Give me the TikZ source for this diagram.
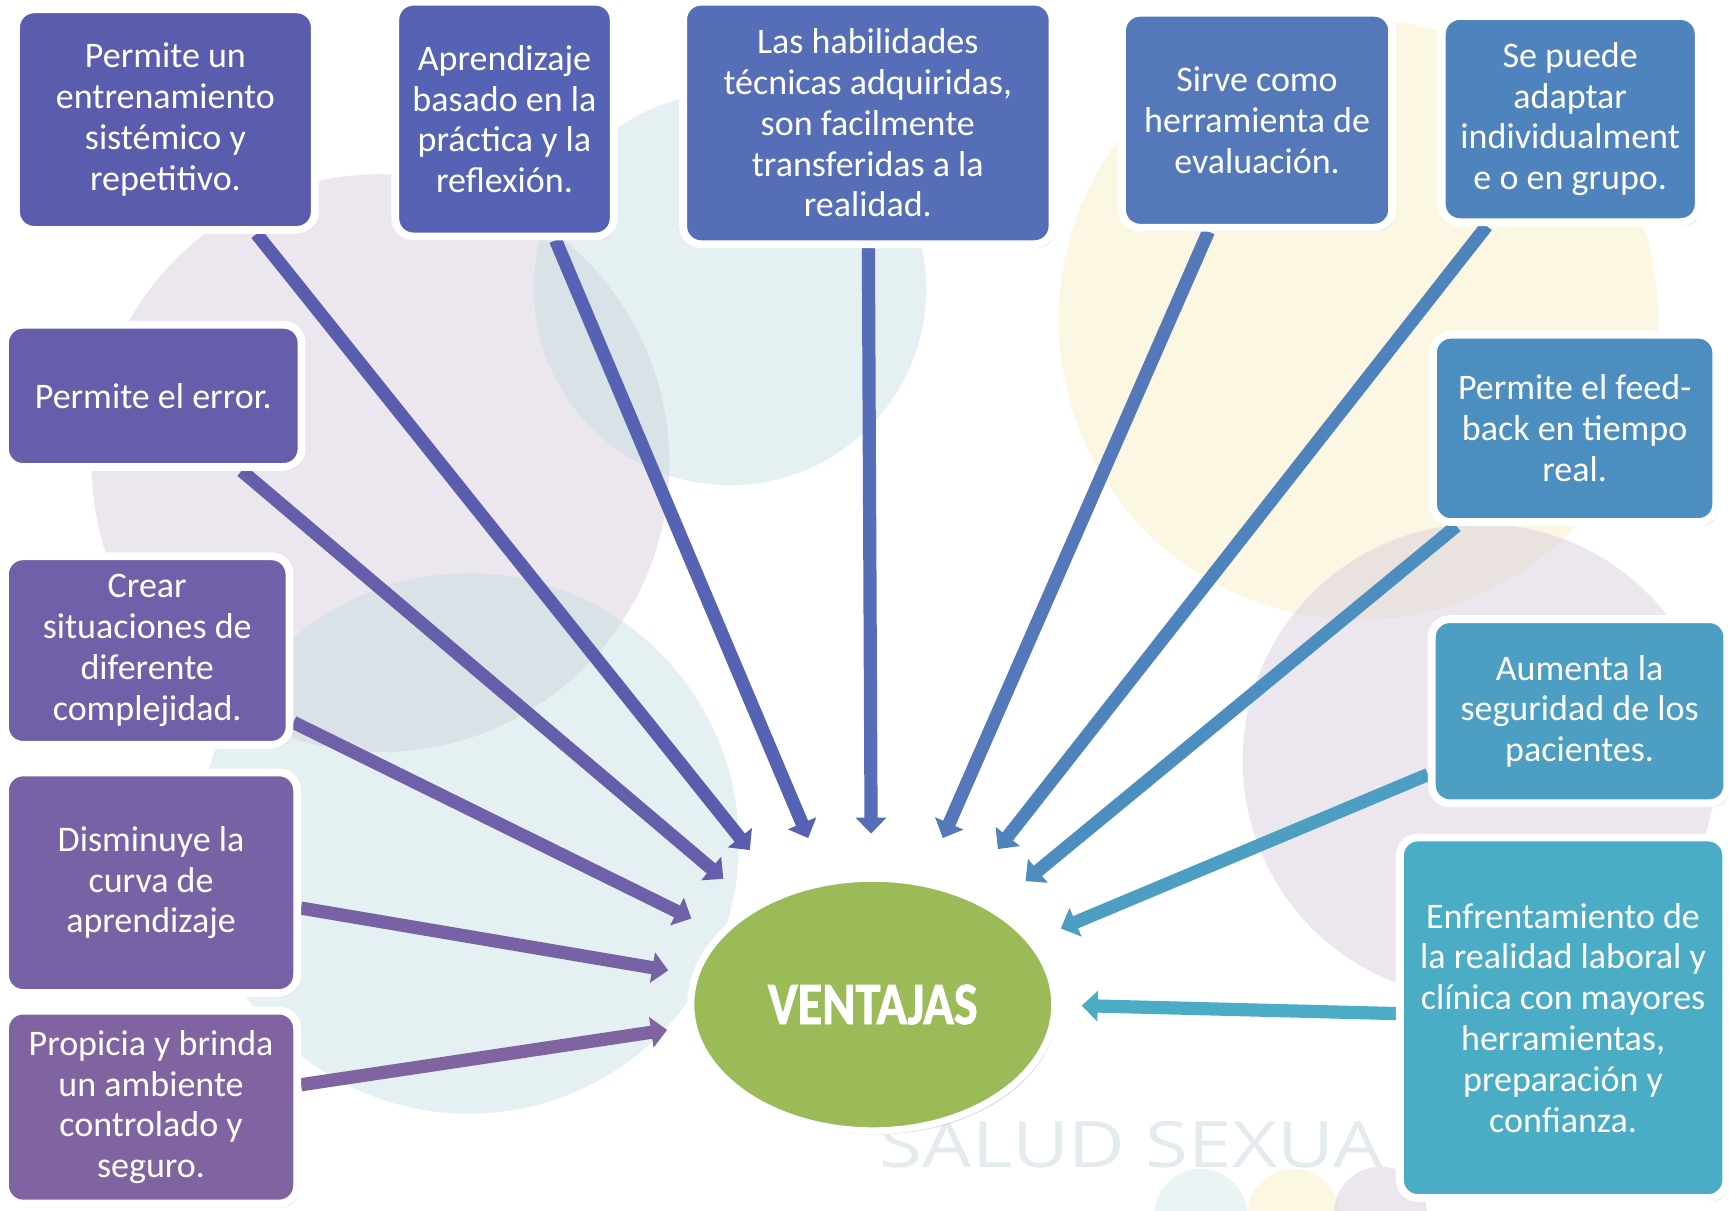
\documentclass[tikz,border=0pt]{standalone}
\usepackage{fontspec}
\usepackage{graphicx}
\setmainfont{Carlito}
\newfontfamily\wmfont{Open Sans}
\newfontfamily\ventfont[BoldFeatures={FakeBold=1.6}]{Carlito}
\usetikzlibrary{arrows.meta,shapes.geometric,shadows}
\definecolor{cA}{HTML}{5A5CAE}
\definecolor{cB}{HTML}{5663B4}
\definecolor{cC}{HTML}{556EB7}
\definecolor{cD}{HTML}{5478B9}
\definecolor{cE}{HTML}{4F83BD}
\definecolor{cF}{HTML}{655EAB}
\definecolor{cG}{HTML}{4C8EC0}
\definecolor{cH}{HTML}{7060A9}
\definecolor{cI}{HTML}{4C9EC3}
\definecolor{cJ}{HTML}{7862A6}
\definecolor{cK}{HTML}{8064A2}
\definecolor{cL}{HTML}{4BACC6}
\definecolor{cgreen}{HTML}{9BBB59}
\definecolor{bglav}{RGB}{209,195,217}
\definecolor{bgteal}{RGB}{189,219,221}
\definecolor{bgyel}{RGB}{245,235,185}
\definecolor{wm}{HTML}{E4EBEE}
\pgfdeclarelayer{bg}
\pgfdeclarelayer{arrowlayer}
\pgfsetlayers{bg,arrowlayer,main}
\tikzset{
  box/.style={rectangle, rounded corners=9pt, draw=white, line width=3.9pt,
    text=white, align=center, inner sep=0pt,
    font=\fontsize{18pt}{20.4pt}\selectfont,
    drop shadow={shadow xshift=1.2pt, shadow yshift=-1.8pt, opacity=0.28, fill=black!70}},
  ell/.style={ellipse, draw=white, line width=3.5pt, fill=cgreen, inner sep=0pt,
    minimum width=182pt, minimum height=126.3pt, text=white,
    drop shadow={shadow xshift=1.2pt, shadow yshift=-1.8pt, opacity=0.28, fill=black!70}},
  arr/.style={line width=6.6pt, -{Triangle[length=8pt,width=15pt]}},
  bgc/.style={fill opacity=0.4}
}
\begin{document}
\begin{tikzpicture}[x=0.5514pt,y=-0.5514pt]
\useasboundingbox (0,0) rectangle (1568,1098);
\begin{pgfonlayer}{bg}
\fill[white] (0,0) rectangle (1568,1098);
\fill[bglav,bgc] (345,420) circle[radius=262];
\fill[bgteal,bgc] (425,765) circle[radius=245];
\fill[bgteal,bgc] (662,262) circle[radius=178];
\fill[bgyel,bgc] (1232,290) circle[radius=272];
\fill[bglav,bgc] (1342,690) circle[radius=215];
\fill[bgteal,fill opacity=0.3] (1089,1102) circle[radius=42];
\fill[bgyel,fill opacity=0.4] (1173,1102) circle[radius=42];
\fill[bglav,fill opacity=0.4] (1252,1100) circle[radius=42];
\node[text=wm, font=\wmfont\fontsize{32pt}{36pt}\selectfont, inner sep=0pt] (wmk) at (1026,1038) {\scalebox{1.22}[1]{SALUD SEXUA}};
\end{pgfonlayer}

\node[box, fill=cA, minimum width=149.4pt, minimum height=110.3pt] (b1) at (150,108.5)
  {Permite un\\entrenamiento\\sistémico y\\repetitivo.};
\node[box, fill=cB, minimum width=109.2pt, minimum height=117.4pt] (b2) at (457.5,108)
  {Aprendizaje\\basado en la\\práctica y la\\reflexión.};
\node[box, fill=cC, minimum width=184.7pt, minimum height=121.3pt] (b3) at (787,111.5)
  {Las habilidades\\técnicas adquiridas,\\son facilmente\\transferidas a la\\realidad.};
\node[box, fill=cD, minimum width=135.1pt, minimum height=107.5pt] (b4) at (1140,109)
  {Sirve como\\herramienta de\\evaluación.};
\node[box, fill=cE, minimum width=128.5pt, minimum height=103.1pt] (b5) at (1424,108)
  {Se puede\\adaptar\\individualment\\e o en grupo.};
\node[box, fill=cF, minimum width=148.3pt, minimum height=71.1pt] (b6) at (139,359)
  {Permite el error.};
\node[box, fill=cG, minimum width=141.7pt, minimum height=93.7pt] (b7) at (1428,388.5)
  {Permite el feed-\\back en tiempo\\real.};
\node[box, fill=cH, minimum width=142.3pt, minimum height=94.3pt] (b8) at (133.5,590)
  {Crear\\situaciones de\\diferente\\complejidad.};
\node[box, fill=cI, minimum width=147.8pt, minimum height=92.1pt] (b9) at (1432.5,645)
  {Aumenta la\\seguridad de los\\pacientes.};
\node[box, fill=cJ, minimum width=146.1pt, minimum height=110.3pt] (b10) at (137,800.5)
  {Disminuye la\\curva de\\aprendizaje};
\node[box, fill=cK, minimum width=146.1pt, minimum height=96.5pt] (b11) at (137,1004)
  {Propicia y brinda\\un ambiente\\controlado y\\seguro.};
\node[box, fill=cL, minimum width=163.2pt, minimum height=180.3pt] (b12) at (1417.5,923)
  {Enfrentamiento de\\la realidad laboral y\\clínica con mayores\\herramientas,\\preparación y\\confianza.};

\node[ell, font=\ventfont\bfseries\fontsize{30pt}{34pt}\selectfont] (v) at (791.5,911)
  {\scalebox{0.84}[1]{VENTAJAS}};

\coordinate (t1) at (680,771);
\coordinate (t2) at (733,760);
\coordinate (t3) at (790,756);
\coordinate (t4) at (855,760);
\coordinate (t5) at (905,770);
\coordinate (t6) at (930,799);
\coordinate (t7) at (656,797);
\coordinate (t8) at (627,833);
\coordinate (t9) at (606,880);
\coordinate (t10) at (605,934);
\coordinate (t11) at (962,842);
\coordinate (t12) at (981,912);

\begin{pgfonlayer}{arrowlayer}
\draw[arr, cA] (b1) -- (t1);
\draw[arr, cB] (b2) -- (t2);
\draw[arr, cC] (b3) -- (t3);
\draw[arr, cD] (b4) -- (t4);
\draw[arr, cE] (b5) -- (t5);
\draw[arr, cG] (b7) -- (t6);
\draw[arr, cF] (b6) -- (t7);
\draw[arr, cH] (b8) -- (t8);
\draw[arr, cJ] (b10) -- (t9);
\draw[arr, cK] (b11) -- (t10);
\draw[arr, cI] (b9) -- (t11);
\draw[arr, cL] (b12) -- (t12);
\end{pgfonlayer}
\end{tikzpicture}
\end{document}
